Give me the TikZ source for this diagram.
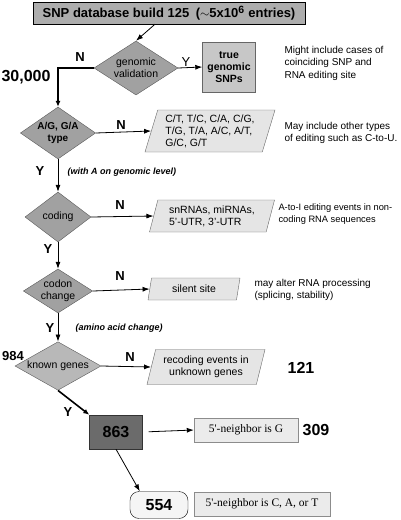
\documentclass[tikz,border=0pt]{standalone}
\usepackage{fontspec}
\setmainfont{Liberation Sans}
\newfontfamily\serifbox{Liberation Serif}
\usetikzlibrary{shapes.geometric, arrows.meta}

\begin{document}
\begin{tikzpicture}[
    x=1pt, y=-1pt,
    font=\fontsize{10.5}{12}\selectfont,
    arr/.style={line width=0.8pt, -{Latex[length=7pt, width=5pt]}},
    bigarr/.style={line width=1.6pt, -{Latex[length=6pt, width=5pt]}},
    yn/.style={font=\fontsize{13}{13}\selectfont\bfseries},
    count/.style={font=\fontsize{16}{16}\selectfont\bfseries},
    note/.style={font=\fontsize{10}{12.5}\selectfont, align=left, anchor=west},
    remark/.style={font=\fontsize{9}{9}\selectfont\bfseries\itshape, anchor=west},
    test/.style={diamond, draw=black!65, fill=black!37, aspect=1.6,
      inner sep=0pt, align=center},
    result/.style={trapezium, trapezium left angle=70, trapezium right angle=110,
      trapezium stretches body, draw=black!60, fill=black!10, align=left,
      inner sep=1pt},
    nbox/.style={rectangle, draw=black!45, fill=black!8, minimum height=24,
      font=\serifbox\fontsize{11.5}{11.5}\selectfont},
  ]
  \useasboundingbox (0,0) rectangle (400,520);

  \node[
    rectangle, draw=black, fill=black!32,
    minimum width=272, minimum height=22,
    font=\fontsize{13}{13}\selectfont\bfseries,
  ] (db) at (169,13) {SNP database build 125\enspace($\sim$5x10\textsuperscript{\fontsize{10.5}{10}\selectfont 6} entries)};

  \node[test, minimum width=84, minimum height=54] (gv) at (136,68) {genomic\\validation};
  \node[
    rectangle, draw=black!60, fill=black!22,
    minimum width=53, minimum height=50,
    font=\fontsize{10.5}{12}\selectfont\bfseries, align=center,
  ] (tgs) at (229,67) {true\\genomic\\SNPs};
  \node[note] (tgsnote) at (281,63) {Might include cases of\\coinciding SNP and\\RNA editing site};

  \node[test, minimum width=66, minimum height=52, font=\fontsize{10}{12}\selectfont\bfseries] (ag) at (58,133) {A/G, G/A\\type};
  \node[result, minimum width=130, minimum height=42] (other) at (210,131) {C/T, T/C, C/A, C/G,\\T/G, T/A, A/C, A/T,\\G/C, G/T};
  \node[note] (othernote) at (281,133) {May include other types\\of editing such as C-to-U.};

  \node[test, minimum width=66, minimum height=50] (cod) at (58,217) {coding};
  \node[result, minimum width=125, minimum height=32] (noncod) at (212,216) {snRNAs, miRNAs,\\5'-UTR, 3'-UTR};
  \node[note, font=\fontsize{9.3}{12.5}\selectfont] (noncodnote) at (275,214) {A-to-I editing events in non-\\coding RNA sequences};

  \node[test, minimum width=68, minimum height=44] (cc) at (58,291) {codon\\change};
  \node[result, minimum width=92, minimum height=22] (silent) at (194,289) {silent site};
  \node[note] (silentnote) at (251,290) {may alter RNA processing\\(splicing, stability)};

  \node[test, fill=black!28, minimum width=86, minimum height=48] (kg) at (58,366) {known genes};
  \node[result, minimum width=118, minimum height=35, align=center] (unknown) at (206,367) {recoding events in\\unknown genes};

  \node[
    rectangle, draw=black!80, fill=black!58,
    minimum width=53, minimum height=34, font=\fontsize{16}{16}\selectfont\bfseries,
  ] (b863) at (116,432) {863};
  \node[nbox, minimum width=104] (nG) at (246,430) {5'-neighbor is G};
  \node[
    rectangle, rounded corners=9pt, draw=black, fill=black!4,
    minimum width=58, minimum height=27, font=\fontsize{16}{16}\selectfont\bfseries,
  ] (b554) at (159,505) {554};
  \node[nbox, minimum width=136] (nCAT) at (262,504) {5'-neighbor is C, A, or T};

  \node[count] (n30000) at (26,77) {30,000};
  \node[count, font=\fontsize{13}{13}\selectfont\bfseries] (n984) at (13,356) {984};
  \node[count] (n121) at (301,368) {121};
  \node[count] (n309) at (316,430) {309};

  \node[yn] (gvN) at (80,57) {N};
  \node[yn, font=\fontsize{13}{13}\selectfont] (gvY) at (186,62) {Y};
  \node[yn] (agN) at (121,125) {N};
  \node[yn] (agY) at (40,171) {Y};
  \node[remark] (agnote) at (64,172) {(with A on genomic level)};
  \node[yn] (codN) at (120,205) {N};
  \node[yn] (codY) at (48,249) {Y};
  \node[yn] (ccN) at (120,276) {N};
  \node[yn] (ccY) at (50,328) {Y};
  \node[remark] (ccnote) at (72,328) {(amino acid change)};
  \node[yn] (kgN) at (130,357) {N};
  \node[yn] (kgY) at (68,412) {Y};

  \draw[arr] ([xshift=-14pt]db.south) -- (gv.north);
  \draw[arr] (gv.east) -- (tgs.west);
  \draw[bigarr] (gv.west) -| (ag.north);
  \draw[arr] (ag.east) -- (other.west);
  \draw[arr] (ag.south) -- (cod.north);
  \draw[arr] (cod.east) -- (noncod.west);
  \draw[arr] (cod.south) -- (cc.north);
  \draw[arr] (cc.east) -- (silent.west);
  \draw[arr] (cc.south) -- (kg.north);
  \draw[arr] (kg.east) -- (unknown.west);
  \draw[bigarr] (kg.south) -- (b863.north west);
  \draw[arr, shorten <=6pt] (b863.east) -- (nG.west);
  \draw[arr] (b863.south) -- ([xshift=10pt]b554.north west);
\end{tikzpicture}
\end{document}
